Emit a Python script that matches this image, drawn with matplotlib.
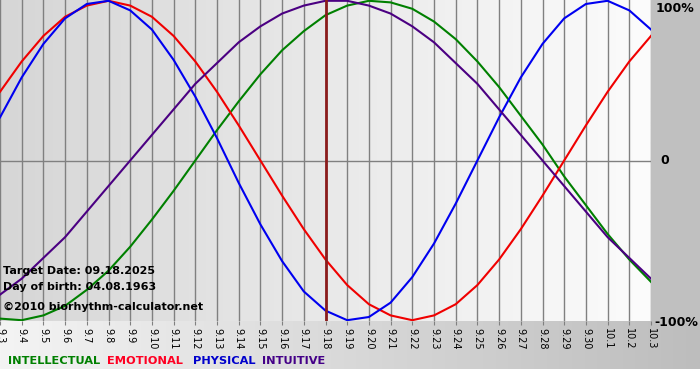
import numpy as np
import matplotlib.pyplot as plt
from matplotlib.colors import LinearSegmentedColormap

# day labels 9.3 .. 10.3
days = ["9.%d" % d for d in range(3, 31)] + ["10.1", "10.2", "10.3"]

# values (-1 .. 1)
intellectual = [-0.99, -1.00, -0.97, -0.91, -0.81, -0.69, -0.54, -0.37, -0.19, 0.00,
                0.19, 0.37, 0.54, 0.69, 0.81, 0.91, 0.97, 1.00, 0.99, 0.95,
                0.87, 0.76, 0.62, 0.46, 0.28, 0.10, -0.10, -0.28, -0.46, -0.62, -0.76]
emotional = [0.43, 0.62, 0.78, 0.90, 0.97, 1.00, 0.97, 0.90, 0.78, 0.62,
             0.43, 0.22, 0.00, -0.22, -0.43, -0.62, -0.78, -0.90, -0.97, -1.00,
             -0.97, -0.90, -0.78, -0.62, -0.43, -0.22, 0.00, 0.22, 0.43, 0.62, 0.78]
physical = [0.27, 0.52, 0.73, 0.89, 0.98, 1.00, 0.94, 0.82, 0.63, 0.40,
            0.14, -0.14, -0.40, -0.63, -0.82, -0.94, -1.00, -0.98, -0.89, -0.73,
            -0.52, -0.27, 0.00, 0.27, 0.52, 0.73, 0.89, 0.98, 1.00, 0.94, 0.82]
intuitive = [-0.84, -0.74, -0.61, -0.48, -0.32, -0.16, 0.00, 0.16, 0.32, 0.48,
             0.61, 0.74, 0.84, 0.92, 0.97, 1.00, 1.00, 0.97, 0.92, 0.84,
             0.74, 0.61, 0.48, 0.32, 0.16, 0.00, -0.16, -0.32, -0.48, -0.61, -0.74]
target_idx = days.index("9.18")

W, H = 700, 380
fig = plt.figure(figsize=(7, 3.8), dpi=100)
fig.patch.set_facecolor("white")

# background layer in pixel coords
bg = fig.add_axes([0, 0, 1, 1])
bg.set_xlim(0, W)
bg.set_ylim(H, 0)
bg.axis("off")
grad = np.linspace(0, 1, 256).reshape(1, -1)
strip = LinearSegmentedColormap.from_list("strip", ["#f4f4f4", "#bdbdbd"])
bg.imshow(grad, cmap=strip, extent=[0, W, 369, 321], aspect="auto", zorder=0)
bg.add_patch(plt.Rectangle((651, 0), W - 651, 322, color="#c0c0c0", zorder=1))

# plot area
ax = fig.add_axes([0, 1 - 321 / H, 651 / W, 321 / H])
x = np.arange(len(days))
ax.set_xlim(0, len(days) - 1)
ax.set_ylim(-1.005, 1.005)
plotbg = LinearSegmentedColormap.from_list("plotbg", ["#d6d6d6", "#fcfcfc"])
ax.imshow(grad, cmap=plotbg, extent=[0, len(days) - 1, -1.005, 1.005],
          aspect="auto", zorder=0)

for xi in x:
    ax.axvline(xi, color="#808080", lw=1.0, zorder=1)
ax.axhline(0, color="#808080", lw=1.0, zorder=1)

ax.plot(x, intellectual, color="#008000", lw=1.5, zorder=3)
ax.plot(x, emotional, color="#f00000", lw=1.5, zorder=3)
ax.plot(x, physical, color="#0000f0", lw=1.5, zorder=3)
ax.plot(x, intuitive, color="#4b0082", lw=1.5, zorder=3)
ax.axvline(target_idx, color="#8b1c1c", lw=2.0, zorder=4)

for s in ax.spines.values():
    s.set_visible(False)
ax.set_yticks([])
ax.set_xticks(x)
ax.set_xticklabels(days, rotation=270, fontsize=7)
ax.tick_params(axis="x", length=3, color="#808080", pad=2)

# texts
tf = bg.transData
fig.text(656, 8, "100%", transform=tf, fontsize=9, fontweight="bold", va="center", ha="left")
fig.text(660, 161, "0", transform=tf, fontsize=9, fontweight="bold", va="center", ha="left")
fig.text(654, 322, "-100%", transform=tf, fontsize=9, fontweight="bold", va="center", ha="left")

info = dict(transform=tf, fontsize=8, fontweight="bold", va="center", ha="left", zorder=5)
fig.text(3, 271, "Target Date: 09.18.2025", **info)
fig.text(3, 287, "Day of birth: 04.08.1963", **info)
fig.text(3, 307, "\u00a92010 biorhythm-calculator.net", **info)

leg = [("INTELLECTUAL", "#008000", 8), ("EMOTIONAL", "#ff0022", 107),
       ("PHYSICAL", "#0000cc", 193), ("INTUITIVE", "#440088", 262)]
for name, col, lx in leg:
    fig.text(lx, 361, name, transform=tf, fontsize=8.2, fontweight="bold",
             color=col, va="center", ha="left")

fig.savefig("out.png", dpi=100)
